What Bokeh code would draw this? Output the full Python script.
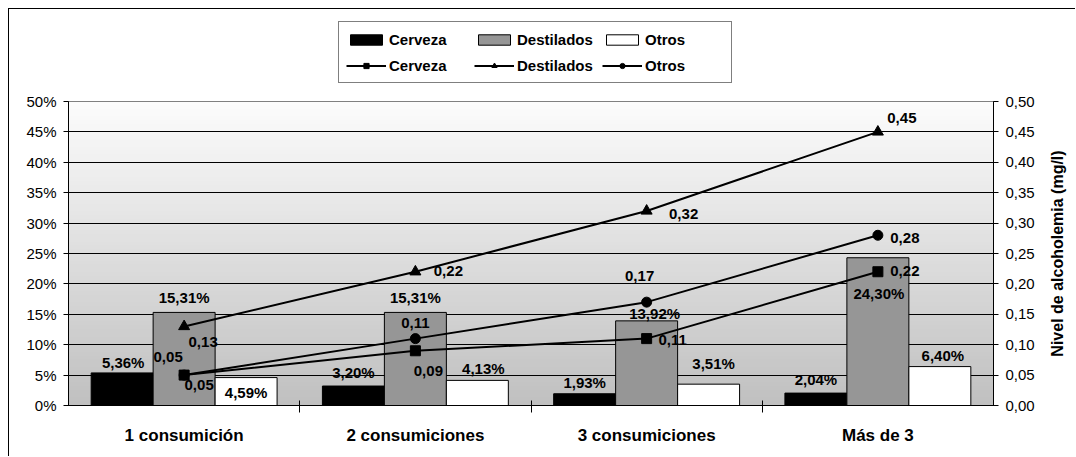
import math
import numpy as np
from bokeh.plotting import figure
from bokeh.models import (Range1d, LinearAxis, FixedTicker, ColumnDataSource,
                          Legend, LegendItem, InlineStyleSheet, Span, Label)
from bokeh.core.properties import value
from bokeh.embed import file_html
from bokeh.resources import INLINE

# ---------------- data ----------------
categories = ["1 consumición", "2 consumiciones", "3 consumiciones", "Más de 3"]
series = ["Cerveza", "Destilados", "Otros"]

pct_cerveza = [5.36, 3.20, 1.93, 2.04]
pct_destilados = [15.31, 15.31, 13.92, 24.30]
pct_otros = [4.59, 4.13, 3.51, 6.40]

mgl_cerveza = [0.05, 0.09, 0.11, 0.22]
mgl_destilados = [0.13, 0.22, 0.32, 0.45]
mgl_otros = [0.05, 0.11, 0.17, 0.28]

left_ticks = [0, 5, 10, 15, 20, 25, 30, 35, 40, 45, 50]
left_tick_labels = ["0%", "5%", "10%", "15%", "20%", "25%", "30%", "35%", "40%", "45%", "50%"]
right_ticks = [0, 0.05, 0.1, 0.15, 0.2, 0.25, 0.3, 0.35, 0.4, 0.45, 0.5]
right_tick_labels = ["0,00", "0,05", "0,10", "0,15", "0,20", "0,25", "0,30", "0,35", "0,40", "0,45", "0,50"]
right_title = "Nivel de alcoholemia (mg/l)"

# label nudges (screen px) for data labels, Excel-like placement
bar_dx = {"Cerveza": [1, 0, 0, 0], "Destilados": [0, 0, 8, 1], "Otros": [0, 6, 5, 3]}
bar_dy = {"Cerveza": [-10, -14, -11, -14], "Destilados": [-15, -15, -7, 36], "Otros": [15, -12, -21, -11]}
line_dx = {"Cerveza": [15, 13, 26, 27], "Destilados": [19, 33, 37, 24], "Otros": [-16, 0, -7, 27]}
line_dy = {"Cerveza": [10, 20, 1, -1], "Destilados": [16, -1, 3, -14], "Otros": [-18, -16, -26, 3]}

FONT = "Liberation Sans"

# ---------------- layout (px) ----------------
PLOT_W = 925          # width of the plot area
PLOT_H = 304          # height of the 0..50 % plot area
EXTRA_TOP = 81        # room above the plot area that holds the legend
FRAME_H = PLOT_H + EXTRA_TOP
k = FRAME_H / PLOT_H  # range stretch factor
TITLE_GAP = 64        # px from right axis to the centre of its title

n = len(categories)
y_lo, y_hi = left_ticks[0], left_ticks[-1]
r_lo, r_hi = right_ticks[0], right_ticks[-1]

p = figure(width=1067, height=448,
           x_range=Range1d(0, n), y_range=Range1d(y_lo, y_lo + (y_hi - y_lo) * k),
           output_backend="svg", toolbar_location=None,
           min_border_left=59, min_border_right=83, min_border_top=11, min_border_bottom=52,
           background_fill_color="white", border_fill_color="white",
           outline_line_color=None)
p.stylesheets = [InlineStyleSheet(css=":host { margin-left: 8px; margin-top: 8px; "
                                      "border-left: 1px solid black; border-top: 1px solid black; }")]

# gradient background of the plot area (0..50 %)
N = 80
grad = np.zeros((N, 1), dtype=np.uint32)
view = grad.view(dtype=np.uint8).reshape((N, 1, 4))
for i in range(N):
    g = int(round(192 + (252 - 192) * i / (N - 1)))
    view[i, 0, :] = [g, g, g, 255]
p.image_rgba(image=[grad], x=0, y=y_lo, dw=n, dh=y_hi - y_lo, level="image")

# axes
p.xaxis.ticker = FixedTicker(ticks=[i + 0.5 for i in range(n)], minor_ticks=list(range(1, n)))
p.xaxis.major_label_overrides = {i + 0.5: c for i, c in enumerate(categories)}
p.xaxis.major_tick_in = 0
p.xaxis.major_tick_out = 0
p.xaxis.minor_tick_in = 5
p.xaxis.minor_tick_out = 7
p.xaxis.minor_tick_line_color = "black"
p.xaxis.axis_line_color = "black"
p.xaxis.major_label_text_font = FONT
p.xaxis.major_label_text_font_style = "bold"
p.xaxis.major_label_text_font_size = "17px"
p.xaxis.major_label_text_color = "black"
p.xaxis.major_label_standoff = 13

p.yaxis.ticker = FixedTicker(ticks=left_ticks, minor_ticks=[])
p.yaxis.bounds = (y_lo, y_hi)
p.yaxis.major_label_overrides = dict(zip(left_ticks, left_tick_labels))
p.yaxis.major_tick_in = 4
p.yaxis.major_tick_out = 5
p.yaxis.major_tick_line_color = "black"
p.yaxis.axis_line_color = "black"
p.yaxis.major_label_text_font = FONT
p.yaxis.major_label_text_font_size = "15px"
p.yaxis.major_label_text_color = "black"
p.yaxis.major_label_standoff = 7

p.extra_y_ranges = {"mgl": Range1d(r_lo, r_lo + (r_hi - r_lo) * k)}
rax = LinearAxis(y_range_name="mgl", ticker=FixedTicker(ticks=right_ticks, minor_ticks=[]),
                 bounds=(r_lo, r_hi),
                 major_label_overrides=dict(zip(right_ticks, right_tick_labels)))
rax.major_tick_in = 4
rax.major_tick_out = 5
rax.major_tick_line_color = "black"
rax.axis_line_color = "black"
rax.major_label_text_font = FONT
rax.major_label_text_font_size = "15px"
rax.major_label_text_color = "black"
rax.major_label_standoff = 7
p.add_layout(rax, "right")

# right-axis title, reading bottom-to-top, centred on the 0..0,50 span
title_lbl = Label(x=n + TITLE_GAP * n / PLOT_W, y=(y_lo + y_hi) / 2,
                  x_units="data", y_units="data", text=right_title,
                  angle=math.pi / 2, text_align="center", text_baseline="middle",
                  text_font=FONT, text_font_style="bold", text_font_size="16px",
                  text_color="black")
p.add_layout(title_lbl, "right")

p.xgrid.visible = False
p.ygrid.ticker = FixedTicker(ticks=left_ticks[1:-1], minor_ticks=[])
p.ygrid.grid_line_color = "black"
p.ygrid.grid_line_width = 1
# top edge of the plot area
p.add_layout(Span(location=y_hi, dimension="width", line_color="#808080", line_width=1))

# ---------------- bars ----------------
bw = 0.268
offsets = [-bw, 0.0, bw]
bar_vals = {"Cerveza": pct_cerveza, "Destilados": pct_destilados, "Otros": pct_otros}
bar_fill = {"Cerveza": "black", "Destilados": "#969696", "Otros": "white"}
centers = [i + 0.5 for i in range(n)]

bar_renderers = {}
for s, off in zip(series, offsets):
    xs = [c + off for c in centers]
    src = ColumnDataSource(dict(x=xs, top=bar_vals[s]))
    r = p.vbar(x="x", top="top", bottom=0, width=bw, source=src,
               fill_color=bar_fill[s], line_color="black", line_width=1)
    bar_renderers[s] = r

# ---------------- lines ----------------
line_vals = {"Cerveza": mgl_cerveza, "Destilados": mgl_destilados, "Otros": mgl_otros}
line_marker = {"Cerveza": "square", "Destilados": "triangle", "Otros": "circle"}
line_size = {"Cerveza": 10, "Destilados": 11, "Otros": 10}
line_renderers = {}
for s in series:
    src = ColumnDataSource(dict(x=centers, y=line_vals[s]))
    lr = p.line("x", "y", source=src, y_range_name="mgl", line_color="black", line_width=2)
    sr = p.scatter("x", "y", source=src, y_range_name="mgl", marker=line_marker[s],
                   size=line_size[s], fill_color="black", line_color="black")
    line_renderers[s] = [lr, sr]

# ---------------- data labels ----------------
def fmt_pct(v):
    return ("%.2f%%" % v).replace(".", ",")

def fmt_mgl(v):
    return ("%.2f" % v).replace(".", ",")

for s, off in zip(series, offsets):
    src = ColumnDataSource(dict(
        x=[c + off for c in centers], y=bar_vals[s],
        t=[fmt_pct(v) for v in bar_vals[s]],
        dx=bar_dx[s], dy=bar_dy[s]))
    p.text("x", "y", text="t", x_offset="dx", y_offset="dy", source=src,
           text_align="center", text_baseline="middle",
           text_font=value(FONT), text_font_style="bold", text_font_size="15px",
           text_color="black")

for s in series:
    src = ColumnDataSource(dict(
        x=centers, y=line_vals[s], t=[fmt_mgl(v) for v in line_vals[s]],
        dx=line_dx[s], dy=line_dy[s]))
    p.text("x", "y", text="t", x_offset="dx", y_offset="dy", source=src,
           y_range_name="mgl",
           text_align="center", text_baseline="middle",
           text_font=value(FONT), text_font_style="bold", text_font_size="15px",
           text_color="black")

# ---------------- legend ----------------
items = [LegendItem(label=s, renderers=[bar_renderers[s]]) for s in series]
items += [LegendItem(label=s, renderers=line_renderers[s]) for s in series]
legend = Legend(items=items, location=(270, 322), orientation="horizontal", ncols=3,
                border_line_color="black", border_line_width=1,
                background_fill_color="white", background_fill_alpha=1,
                label_text_font=FONT, label_text_font_style="bold",
                label_text_font_size="15px", label_text_color="black",
                glyph_width=40, glyph_height=13, label_standoff=3,
                label_width=79, label_height=20, spacing=6, padding=7, margin=0)
p.add_layout(legend, "center")

open("out.html", "w").write(file_html(p, INLINE))
